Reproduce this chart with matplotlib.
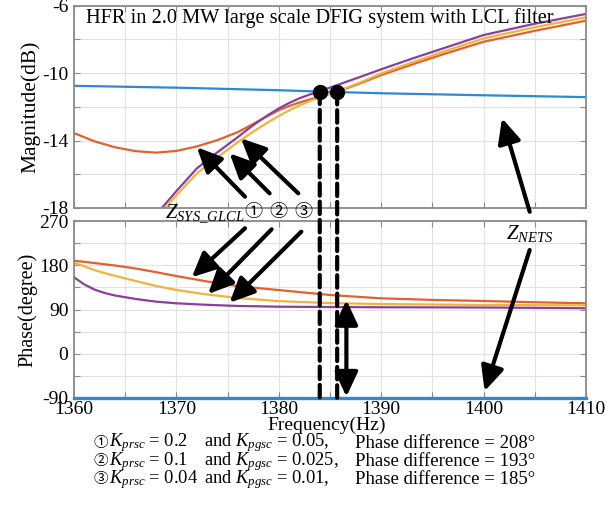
import numpy as np
import matplotlib
matplotlib.use("Agg")
import matplotlib.pyplot as plt
from matplotlib.patches import ConnectionPatch

plt.rcParams['font.family'] = ['Liberation Serif', 'Noto Sans CJK JP']
plt.rcParams['mathtext.fontset'] = 'custom'
plt.rcParams['mathtext.rm'] = 'Liberation Serif'
plt.rcParams['mathtext.it'] = 'Liberation Serif:italic'

# Magnitude (dB)
freq_mag = [1360, 1362, 1364, 1366, 1368, 1370, 1372, 1374, 1376, 1377, 1378, 1379, 1380,
            1381, 1382, 1383, 1384, 1386, 1388, 1390, 1393, 1396, 1400, 1405, 1410]
mag_1 = [-13.56, -14.05, -14.4, -14.63, -14.72, -14.62, -14.35, -13.98, -13.5, -13.18, -12.85,
         -12.52, -12.2, -11.96, -11.75, -11.57, -11.4, -11.05, -10.6, -10.12, -9.5, -8.9,
         -8.15, -7.5, -6.9]
mag_2 = [-23.0, -21.7, -20.5, -19.5, -18.6, -17.25, -15.95, -15.0, -14.1, -13.68, -13.28,
         -12.9, -12.55, -12.22, -11.93, -11.67, -11.44, -11.02, -10.55, -10.02, -9.38, -8.75,
         -7.95, -7.29, -6.7]
mag_3 = [-22.8, -21.5, -20.3, -19.3, -18.4, -17.0, -15.65, -14.7, -13.8, -13.32, -12.88,
         -12.47, -12.1, -11.78, -11.5, -11.28, -11.08, -10.65, -10.22, -9.78, -9.15, -8.55,
         -7.75, -7.08, -6.5]
freq_net = [1360, 1370, 1380, 1384, 1390, 1400, 1410]
mag_net = [-10.76, -10.87, -11.02, -11.1, -11.2, -11.32, -11.43]

# Phase (degree)
freq_ph = [1360, 1361, 1362, 1363, 1364, 1366, 1368, 1370, 1373, 1376, 1380,
           1385, 1390, 1395, 1400, 1405, 1410]
ph_1 = [189, 187, 184.5, 182, 179.5, 173.5, 166, 158, 147, 137.5, 129.5,
        119.5, 112.7, 109.5, 107.3, 104.8, 102.6]
ph_2 = [185, 178, 170, 164, 158.5, 148, 138, 129.7, 120.5, 113.5, 107,
        103, 101.2, 100.2, 99.2, 98.8, 98.5]
ph_3 = [155.5, 141, 130.5, 123.5, 118.5, 111.5, 106, 102.6, 99.5, 97.2, 95.7,
        95, 94.5, 94.3, 94, 93.3, 92.5]
ph_net = [-90, -90, -90, -90, -90, -90, -90]

# crossing points
cross_f = [1384.0, 1385.7]
cross_db = [-11.1, -11.12]

circles = ['①', '②', '③']
kprsc = ['0.2', '0.1', '0.04']
kpgsc = ['0.05', '0.025', '0.01']
phase_diff = [208, 193, 185]

c_net = '#2b8ad3'
c_1 = '#e2612c'
c_2 = '#efb43a'
c_3 = '#8b3f9b'
frame = '#8a8a8a'

fig = plt.figure(figsize=(6.09, 5.13), dpi=100)
ax1 = fig.add_axes([74/609, 1-208/513, 512/609, 202.5/513])
ax2 = fig.add_axes([74/609, 1-398/513, 512/609, 177/513])

ax1.plot(freq_net, mag_net, color=c_net, lw=1.6)
ax1.plot(freq_mag, mag_1, color=c_1, lw=1.6)
ax1.plot(freq_mag, mag_2, color=c_2, lw=1.6)
ax1.plot(freq_mag, mag_3, color=c_3, lw=1.6)

ax2.plot(freq_net, ph_net, color=c_net, lw=2.4, clip_on=False, zorder=5)
ax2.plot(freq_ph, ph_1, color=c_1, lw=1.6)
ax2.plot(freq_ph, ph_2, color=c_2, lw=1.6)
ax2.plot(freq_ph, ph_3, color=c_3, lw=1.6)

for ax in (ax1, ax2):
    ax.set_xlim(1360, 1410)
    ax.set_xticks(np.arange(1360, 1411, 5))
    ax.grid(True, color='#e2e2e2', lw=0.8)
    ax.set_axisbelow(True)
    ax.tick_params(direction='in', length=4, color=frame, top=True, right=True,
                   labelsize=14, pad=4)
    for s in ax.spines.values():
        s.set_color(frame)
        s.set_linewidth(1.3)
ax2.tick_params(axis='x', pad=2.5)

ax1.set_ylim(-18, -6)
ax1.set_yticks(np.arange(-18, -5, 2))
ax1.set_yticklabels([str(v) if v % 4 == 2 else '' for v in range(-18, -5, 2)])
ax1.set_xticklabels([])
ax1.set_ylabel('Magnitude(dB)', fontsize=15.5, labelpad=1)

ax2.set_ylim(-90, 270)
ax2.set_yticks(np.arange(-90, 271, 45))
ax2.set_yticklabels([str(v) if v % 90 == 0 else '' for v in range(-90, 271, 45)])
ax2.set_xticklabels([str(v) if v % 10 == 0 else '' for v in range(1360, 1411, 5)])
ax2.set_ylabel('Phase(degree)', fontsize=14.5, labelpad=1)
fig.text(327/609, 1-425/513, 'Frequency(Hz)', fontsize=14, ha='center', va='center')

ax1.text(0.024, 0.94, 'HFR in 2.0 MW large scale DFIG system with LCL filter',
         transform=ax1.transAxes, fontsize=14.7, va='center', ha='left')

# crossing dots and dashed lines
ax1.plot(cross_f, cross_db, 'o', color='k', ms=10, zorder=6, clip_on=False)
for f, db in zip(cross_f, cross_db):
    con = ConnectionPatch(xyA=(f, db), coordsA=ax1.transData,
                          xyB=(f, -90), coordsB=ax2.transData,
                          color='k', lw=3, linestyle=(0, (3, 1.4)), zorder=4)
    fig.add_artist(con)

arrow = dict(arrowstyle='-|>,head_length=0.75,head_width=0.35', lw=3, color='k',
             mutation_scale=20, shrinkA=0, shrinkB=0)
darrow = dict(arrowstyle='<|-|>,head_length=0.75,head_width=0.35', lw=3, color='k',
              mutation_scale=20, shrinkA=0, shrinkB=0)

# magnitude arrows
ax1.annotate('', xy=(1372.0, -14.4), xytext=(1376.7, -17.33), arrowprops=arrow,
             annotation_clip=False)
ax1.annotate('', xy=(1375.2, -14.76), xytext=(1379.1, -17.13), arrowprops=arrow,
             annotation_clip=False)
ax1.annotate('', xy=(1376.3, -13.87), xytext=(1381.9, -17.13), arrowprops=arrow,
             annotation_clip=False)
ax1.annotate('', xy=(1401.8, -12.68), xytext=(1404.5, -18.22), arrowprops=arrow,
             annotation_clip=False)

# phase arrows
ax2.annotate('', xy=(1371.5, 155.5), xytext=(1376.7, 255.2), arrowprops=arrow,
             annotation_clip=False)
ax2.annotate('', xy=(1373.1, 121.5), xytext=(1379.3, 253.1), arrowprops=arrow,
             annotation_clip=False)
ax2.annotate('', xy=(1375.2, 103.9), xytext=(1382.2, 248.3), arrowprops=arrow,
             annotation_clip=False)
ax2.annotate('', xy=(1400.1, -76), xytext=(1404.5, 211), arrowprops=arrow,
             annotation_clip=False)
ax2.annotate('', xy=(1386.6, -87.3), xytext=(1386.6, 109.3), arrowprops=darrow,
             annotation_clip=False)

fig.text(165/609, 1-214/513, r'$Z_{SYS\_GLCL}$', fontsize=15, ha='left', va='center')
for i, cx in enumerate([253, 278, 303]):
    fig.text(cx/609, 1-212/513, circles[i], fontsize=13, ha='center', va='center')
fig.text(530/609, 1-233/513, r'$Z_{NETS}$', fontsize=15, ha='center', va='center')

rows_y = [443, 461.5, 480]
for i in range(3):
    y = 1 - rows_y[i]/513
    fig.text(93/609, y, circles[i], fontsize=10.5, ha='left', va='center')
    fig.text(109/609, y, r'$K_{prsc}$ = ' + kprsc[i], fontsize=13.3, ha='left', va='center')
    fig.text(204/609, y, r'and $K_{pgsc}$ = ' + kpgsc[i] + ',', fontsize=13.3,
             ha='left', va='center')
    fig.text(355/609, y, 'Phase difference = %d°' % phase_diff[i], fontsize=13.5,
             ha='left', va='center')

fig.savefig('out.png', dpi=100)
